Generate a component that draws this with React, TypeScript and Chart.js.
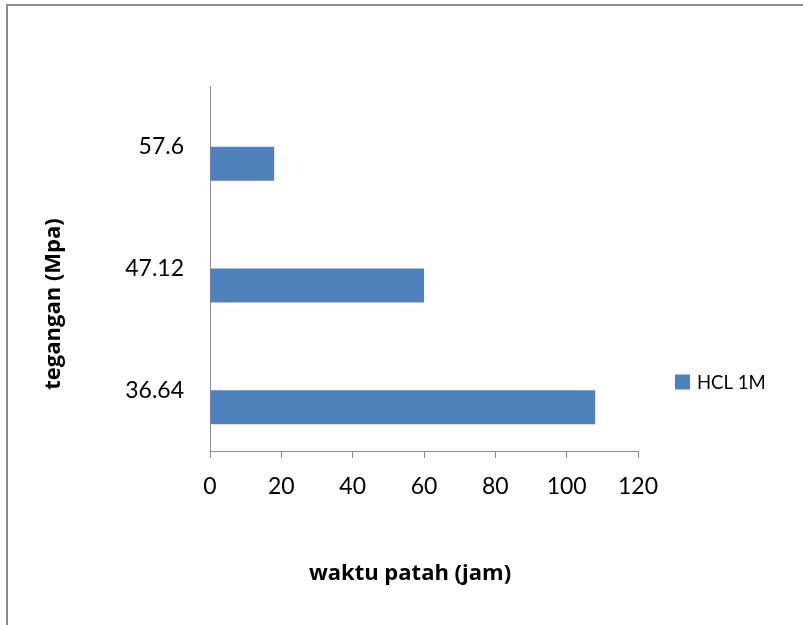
import React, { useEffect, useRef } from 'react';
import { Chart, registerables } from 'chart.js';

Chart.register(...registerables);

// ---- data ----
const categories = ['57.6', '47.12', '36.64'];
const hclValues = [18, 60, 108];
const emptySeries: (number | null)[] = [null, null, null];
const seriesName = 'HCL 1M';
const xTickValues = [0, 20, 40, 60, 80, 100, 120];
const xTitle = 'waktu patah (jam)';
const yTitle = 'tegangan (Mpa)';

// ---- styles ----
const FONT = 'Lato, "Open Sans", sans-serif';
const TITLE_FONT = '"Open Sans", Lato, sans-serif';
const AXIS = '#8c8c8c';
const BAR = '#4F81BD';

const extras = {
  id: 'excelExtras',
  afterDraw(chart: any) {
    const { ctx, chartArea } = chart;
    ctx.save();
    ctx.fillStyle = '#000';
    ctx.textAlign = 'center';
    ctx.textBaseline = 'middle';
    ctx.font = `bold 22px ${TITLE_FONT}`;
    ctx.fillText(xTitle, (chartArea.left + chartArea.right) / 2 - 14, chartArea.bottom + 123);
    ctx.save();
    ctx.translate(54, chartArea.top + 218);
    ctx.rotate(-Math.PI / 2);
    ctx.fillText(yTitle, 0, 0);
    ctx.restore();

    // legend
    ctx.font = `18.5px ${FONT}`;
    ctx.textAlign = 'left';
    let y = 382;
    chart.data.datasets.forEach((ds: any) => {
      if (!ds.label) return;
      const bx = chartArea.right + 37;
      ctx.fillStyle = ds.backgroundColor;
      ctx.fillRect(bx, y - 7.5, 15, 15);
      ctx.fillStyle = '#000';
      ctx.fillText(ds.label, bx + 22, y + 1);
      y += 28;
    });
    ctx.restore();
  },
};

export default function App() {
  const ref = useRef<HTMLCanvasElement>(null);
  useEffect(() => {
    if (!ref.current) return;
    const chart = new Chart(ref.current, {
      type: 'bar',
      data: {
        labels: categories,
        datasets: [
          { label: '', data: emptySeries as any, backgroundColor: 'rgba(0,0,0,0)' },
          { label: seriesName, data: hclValues, backgroundColor: BAR, borderWidth: 0 },
        ],
      },
      options: {
        indexAxis: 'y',
        responsive: false,
        animation: false,
        events: [],
        layout: { padding: { top: 86, right: 165, bottom: 0, left: 0 } },
        plugins: { legend: { display: false }, tooltip: { enabled: false } },
        datasets: { bar: { categoryPercentage: 68 / 121.67, barPercentage: 1 } },
        scales: {
          x: {
            type: 'linear',
            min: 0,
            max: 120,
            position: 'bottom',
            afterBuildTicks: (s: any) => {
              s.ticks = xTickValues.map((v) => ({ value: v }));
            },
            ticks: { font: { family: FONT, size: 23 }, color: '#000', padding: 15 },
            grid: { display: true, drawOnChartArea: false, drawTicks: true, tickLength: 7, color: AXIS },
            border: { display: true, color: AXIS, width: 1 },
            afterFit: (s: any) => {
              s.height = 174;
            },
          },
          y: {
            type: 'category',
            position: 'left',
            offset: true,
            ticks: { font: { family: FONT, size: 23 }, color: '#000', padding: 18 },
            grid: { display: false },
            border: { display: true, color: AXIS, width: 1 },
            afterFit: (s: any) => {
              s.width = 210;
            },
          },
        },
      } as any,
      plugins: [extras],
    });
    return () => chart.destroy();
  }, []);

  return (
    <div style={{ position: 'fixed', left: 0, top: 0, width: 803, height: 625, background: '#fff', overflow: 'hidden' }}>
      <div
        style={{
          position: 'absolute',
          left: 6,
          top: 4,
          width: 900,
          height: 800,
          borderTop: `2px solid ${AXIS}`,
          borderLeft: `2px solid ${AXIS}`,
        }}
      />
      <canvas ref={ref} width={803} height={625} style={{ position: 'absolute', left: 0, top: 0, width: 803, height: 625 }} />
    </div>
  );
}
